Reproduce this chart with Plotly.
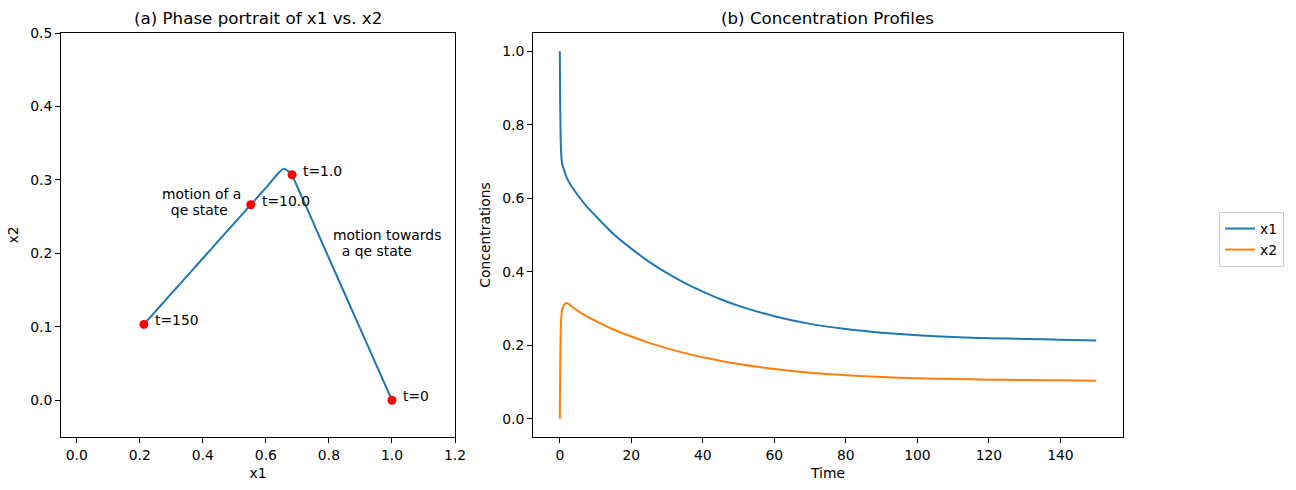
import plotly.graph_objects as go

# ---- data ----
t = [0, 0.05, 0.1, 0.2, 0.3, 0.5, 0.75, 1.0, 1.5, 2.0, 3.0, 5.0, 7.5, 10.0, 12.5, 15.0,
     20.0, 25.0, 30.0, 35.0, 40.0, 45.0, 50.0, 60.0, 70.0, 80.0, 90.0, 100.0, 110.0,
     120.0, 130.0, 140.0, 150.0]
x1 = [1.0, 0.92, 0.86, 0.785, 0.74, 0.705, 0.69, 0.683, 0.668, 0.655, 0.637, 0.609, 0.578,
      0.552, 0.527, 0.503, 0.463, 0.427, 0.396, 0.369, 0.346, 0.325, 0.307, 0.279, 0.258,
      0.244, 0.234, 0.227, 0.222, 0.219, 0.217, 0.215, 0.213]
x2 = [0.0, 0.0775, 0.1355, 0.208, 0.252, 0.2856, 0.300, 0.307, 0.313, 0.315, 0.308, 0.2936,
      0.2787, 0.2662, 0.2542, 0.2427, 0.2235, 0.2062, 0.1913, 0.1783, 0.1673, 0.1572, 0.1485,
      0.135, 0.125, 0.1182, 0.1134, 0.110, 0.1077, 0.1062, 0.1053, 0.1043, 0.1033]

mark_t = [0, 1.0, 10.0, 150]
mark_labels = ["t=0", "t=1.0", "t=10.0", "t=150"]

note1_lines = ["motion of a", "\u00a0\u00a0qe state"]
note2_lines = ["motion towards", "\u00a0\u00a0a qe state"]

BLUE = "#1f77b4"
ORANGE = "#ff7f0e"
FONT = "DejaVu Sans"

W, H = 1296, 490

def px(v):
    return v / W

def py(v):
    return 1 - v / H

mark_x1 = [x1[t.index(m)] for m in mark_t]
mark_x2 = [x2[t.index(m)] for m in mark_t]

fig = go.Figure()

# (a) phase portrait
fig.add_trace(go.Scatter(x=x1, y=x2, mode="lines",
                         line=dict(color=BLUE, width=2, shape="spline", smoothing=0.5),
                         xaxis="x", yaxis="y", showlegend=False, hoverinfo="skip"))
fig.add_trace(go.Scatter(x=mark_x1, y=mark_x2, mode="markers",
                         marker=dict(color="#ff0000", size=9), xaxis="x", yaxis="y",
                         showlegend=False))

# (b) concentration profiles
fig.add_trace(go.Scatter(x=t, y=x1, mode="lines", name="x1",
                         line=dict(color=BLUE, width=2, shape="spline", smoothing=0.6),
                         xaxis="x2", yaxis="y2"))
fig.add_trace(go.Scatter(x=t, y=x2, mode="lines", name="x2",
                         line=dict(color=ORANGE, width=2, shape="spline", smoothing=0.6),
                         xaxis="x2", yaxis="y2"))

axis_common = dict(showline=True, linecolor="black", linewidth=1, mirror=True,
                   ticks="outside", ticklen=5, tickcolor="black", tickwidth=1,
                   showgrid=False, zeroline=False, automargin=False,
                   tickfont=dict(family=FONT, size=13.9, color="black"))

annotations = []
for xv, yv, lab in zip(mark_x1, mark_x2, mark_labels):
    annotations.append(dict(x=xv, y=yv, xref="x", yref="y", text=lab, showarrow=False,
                            xanchor="left", yanchor="middle", xshift=9, yshift=4,
                            font=dict(family=FONT, size=13.9, color="black")))

for i, line in enumerate(note1_lines):
    annotations.append(dict(x=0.2625, y=[0.281, 0.259][i], xref="x", yref="y", text=line,
                            showarrow=False, xanchor="left", yanchor="middle",
                            font=dict(family=FONT, size=13.9, color="black")))
for i, line in enumerate(note2_lines):
    annotations.append(dict(x=0.805, y=[0.225, 0.2033][i], xref="x", yref="y", text=line,
                            showarrow=False, xanchor="left", yanchor="middle",
                            font=dict(family=FONT, size=13.9, color="black")))

annotations.append(dict(x=px(258), y=py(18), xref="paper", yref="paper",
                        text="(a) Phase portrait of x1 vs. x2", showarrow=False,
                        xanchor="center", yanchor="middle",
                        font=dict(family=FONT, size=16.7, color="black")))
annotations.append(dict(x=px(828), y=py(18), xref="paper", yref="paper",
                        text="(b) Concentration Profiles", showarrow=False,
                        xanchor="center", yanchor="middle",
                        font=dict(family=FONT, size=16.7, color="black")))

fig.update_layout(
    width=W, height=H,
    margin=dict(l=0, r=0, t=0, b=0, autoexpand=False),
    paper_bgcolor="white", plot_bgcolor="white",
    font=dict(family=FONT, size=13.9, color="black"),
    xaxis=dict(domain=[px(61), px(455)], range=[-0.05, 1.2], anchor="y",
               tickvals=[0.0, 0.2, 0.4, 0.6, 0.8, 1.0, 1.2], tickformat=".1f",
               title=dict(text="x1", font=dict(family=FONT, size=13.9), standoff=6),
               **axis_common),
    yaxis=dict(domain=[py(437), py(33)], range=[-0.05, 0.5], anchor="x",
               tickvals=[0.0, 0.1, 0.2, 0.3, 0.4, 0.5], tickformat=".1f",
               title=dict(text="x2", font=dict(family=FONT, size=13.9), standoff=8),
               **axis_common),
    xaxis2=dict(domain=[px(533), px(1123)], range=[-7.5, 157.5], anchor="y2",
                tickvals=[0, 20, 40, 60, 80, 100, 120, 140],
                title=dict(text="Time", font=dict(family=FONT, size=13.9), standoff=6),
                **axis_common),
    yaxis2=dict(domain=[py(437), py(33)], range=[-0.05, 1.05], anchor="x2",
                tickvals=[0.0, 0.2, 0.4, 0.6, 0.8, 1.0], tickformat=".1f",
                title=dict(text="Concentrations", font=dict(family=FONT, size=13.9), standoff=8),
                **axis_common),
    legend=dict(x=px(1219), y=py(212), xanchor="left", yanchor="top",
                bordercolor="#cccccc", borderwidth=1, bgcolor="white",
                font=dict(family=FONT, size=13.9, color="black"),
                itemwidth=30, tracegroupgap=0),
    annotations=annotations,
)

fig.write_html("out.html")
